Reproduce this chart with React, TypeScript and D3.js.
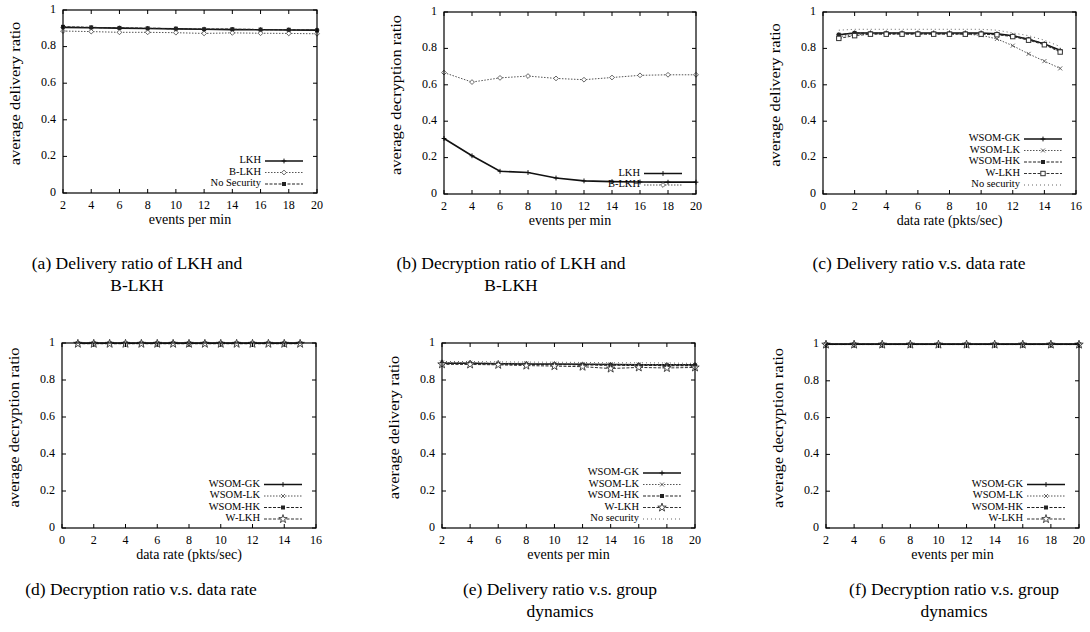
import React from 'react';
import * as d3 from 'd3';

// ---------- data ----------
const eventsX = [2, 4, 6, 8, 10, 12, 14, 16, 18, 20];
const rateX = [1, 2, 3, 4, 5, 6, 7, 8, 9, 10, 11, 12, 13, 14, 15];
const eventsTicks = [2, 4, 6, 8, 10, 12, 14, 16, 18, 20];
const rateTicks = [0, 2, 4, 6, 8, 10, 12, 14, 16];
const yTicks = [0, 0.2, 0.4, 0.6, 0.8, 1];

// (a) delivery ratio of LKH and B-LKH
const aLKH = [0.905, 0.903, 0.901, 0.899, 0.897, 0.895, 0.893, 0.892, 0.891, 0.89];
const aBLKH = [0.885, 0.882, 0.878, 0.878, 0.876, 0.872, 0.875, 0.873, 0.872, 0.87];
const aNoSec = [0.908, 0.905, 0.902, 0.9, 0.898, 0.895, 0.895, 0.893, 0.892, 0.889];

// (b) decryption ratio of LKH and B-LKH
const bLKH = [0.305, 0.21, 0.125, 0.118, 0.088, 0.072, 0.068, 0.066, 0.065, 0.065];
const bBLKH = [0.667, 0.615, 0.638, 0.648, 0.635, 0.628, 0.64, 0.652, 0.655, 0.655];

// (c) delivery ratio vs data rate
const cGK = [0.875, 0.885, 0.885, 0.885, 0.885, 0.885, 0.885, 0.885, 0.885, 0.885, 0.88, 0.87, 0.85, 0.825, 0.79];
const cLK = [0.865, 0.875, 0.88, 0.88, 0.88, 0.88, 0.88, 0.88, 0.878, 0.872, 0.852, 0.815, 0.77, 0.73, 0.69];
const cHK = [0.875, 0.885, 0.883, 0.883, 0.882, 0.882, 0.882, 0.882, 0.882, 0.882, 0.878, 0.868, 0.85, 0.825, 0.785];
const cWLKH = [0.855, 0.87, 0.878, 0.878, 0.878, 0.878, 0.878, 0.878, 0.878, 0.878, 0.875, 0.865, 0.845, 0.82, 0.78];
const cNoSec = [0.9, 0.905, 0.905, 0.905, 0.905, 0.905, 0.905, 0.905, 0.905, 0.905, 0.9, 0.885, 0.87, 0.845, 0.81];

// (d) decryption ratio vs data rate
const dGK = [0.998, 0.998, 0.998, 0.998, 0.998, 0.998, 0.998, 0.998, 0.998, 0.998, 0.998, 0.998, 0.998, 0.998, 0.998];
const dLK = [0.997, 0.997, 0.997, 0.997, 0.997, 0.997, 0.997, 0.997, 0.997, 0.997, 0.997, 0.997, 0.997, 0.997, 0.997];
const dHK = [0.998, 0.998, 0.998, 0.998, 0.998, 0.998, 0.998, 0.998, 0.998, 0.998, 0.998, 0.998, 0.998, 0.998, 0.998];
const dWLKH = [0.996, 0.996, 0.996, 0.996, 0.996, 0.996, 0.996, 0.996, 0.996, 0.996, 0.996, 0.996, 0.996, 0.996, 0.996];

// (e) delivery ratio vs group dynamics
const eGK = [0.89, 0.89, 0.888, 0.887, 0.886, 0.885, 0.884, 0.883, 0.882, 0.882];
const eLK = [0.895, 0.893, 0.89, 0.89, 0.888, 0.886, 0.885, 0.884, 0.883, 0.882];
const eHK = [0.888, 0.888, 0.886, 0.884, 0.883, 0.882, 0.88, 0.879, 0.878, 0.878];
const eWLKH = [0.885, 0.884, 0.882, 0.878, 0.875, 0.872, 0.862, 0.868, 0.865, 0.868];
const eNoSec = [0.9, 0.9, 0.898, 0.897, 0.896, 0.895, 0.893, 0.893, 0.892, 0.89];

// (f) decryption ratio vs group dynamics
const fGK = [0.998, 0.998, 0.998, 0.998, 0.998, 0.998, 0.998, 0.998, 0.998, 0.998];
const fLK = [0.997, 0.997, 0.997, 0.997, 0.997, 0.997, 0.997, 0.997, 0.997, 0.997];
const fHK = [0.998, 0.998, 0.998, 0.998, 0.998, 0.998, 0.998, 0.998, 0.998, 0.998];
const fWLKH = [0.997, 0.997, 0.997, 0.997, 0.997, 0.997, 0.997, 0.997, 0.997, 0.997];

// ---------- styles ----------
type Marker = 'plus' | 'diamond' | 'fsquare' | 'osquare' | 'star' | 'cross' | 'none';
type Series = { name: string; x: number[]; y: number[]; dash: string; marker: Marker; stroke: string; width: number };

const SOLID = '';
const DOT = '1.5,1.5';
const DASH = '3,1.5';
const SPARSE = '1,3';

const FONT = '"Liberation Serif", "Times New Roman", Times, serif';

type PanelCfg = {
  left: number; right: number; top: number; bottom: number;
  xDomain: [number, number]; xTicks: number[];
  yLabel: string; xLabel: string;
  series: Series[];
  caption: string[]; captionX: number; captionY: number;
};

const mk = (name: string, x: number[], y: number[], dash: string, marker: Marker, stroke = '#1a1a1a', width = 1.2): Series =>
  ({ name, x, y, dash, marker, stroke, width });

const panels: PanelCfg[] = [
  {
    left: 63, right: 317, top: 10, bottom: 193, xDomain: [2, 20], xTicks: eventsTicks,
    yLabel: 'average delivery ratio', xLabel: 'events per min',
    series: [
      mk('LKH', eventsX, aLKH, SOLID, 'plus', '#111', 1.6),
      mk('B-LKH', eventsX, aBLKH, DOT, 'diamond', '#555', 1),
      mk('No Security', eventsX, aNoSec, DASH, 'fsquare', '#222', 1.2),
    ],
    caption: ['(a) Delivery ratio of LKH and', 'B-LKH'], captionX: 137, captionY: 265,
  },
  {
    left: 444, right: 696, top: 12, bottom: 194, xDomain: [2, 20], xTicks: eventsTicks,
    yLabel: 'average decryption ratio', xLabel: 'events per min',
    series: [
      mk('LKH', eventsX, bLKH, SOLID, 'plus', '#111', 1.6),
      mk('B-LKH', eventsX, bBLKH, DOT, 'diamond', '#555', 1),
    ],
    caption: ['(b) Decryption ratio of LKH and', 'B-LKH'], captionX: 511, captionY: 265,
  },
  {
    left: 823, right: 1076, top: 12, bottom: 194, xDomain: [0, 16], xTicks: rateTicks,
    yLabel: 'average delivery ratio', xLabel: 'data rate (pkts/sec)',
    series: [
      mk('WSOM-GK', rateX, cGK, SOLID, 'plus', '#111', 1.5),
      mk('WSOM-LK', rateX, cLK, DOT, 'cross', '#555', 1),
      mk('WSOM-HK', rateX, cHK, DASH, 'fsquare', '#222', 1.2),
      mk('W-LKH', rateX, cWLKH, DASH, 'osquare', '#333', 1),
      mk('No security', rateX, cNoSec, SPARSE, 'none', '#666', 1),
    ],
    caption: ['(c) Delivery ratio v.s. data rate'], captionX: 919, captionY: 265,
  },
  {
    left: 62, right: 316, top: 343, bottom: 528, xDomain: [0, 16], xTicks: rateTicks,
    yLabel: 'average decryption ratio', xLabel: 'data rate (pkts/sec)',
    series: [
      mk('WSOM-GK', rateX, dGK, SOLID, 'plus', '#111', 1.5),
      mk('WSOM-LK', rateX, dLK, DOT, 'cross', '#555', 1),
      mk('WSOM-HK', rateX, dHK, DASH, 'fsquare', '#222', 1.2),
      mk('W-LKH', rateX, dWLKH, DASH, 'star', '#333', 1),
    ],
    caption: ['(d) Decryption ratio v.s. data rate'], captionX: 141, captionY: 591,
  },
  {
    left: 442, right: 695, top: 343, bottom: 528, xDomain: [2, 20], xTicks: eventsTicks,
    yLabel: 'average delivery ratio', xLabel: 'events per min',
    series: [
      mk('WSOM-GK', eventsX, eGK, SOLID, 'plus', '#111', 1.5),
      mk('WSOM-LK', eventsX, eLK, DOT, 'cross', '#555', 1),
      mk('WSOM-HK', eventsX, eHK, DASH, 'fsquare', '#222', 1.2),
      mk('W-LKH', eventsX, eWLKH, DASH, 'star', '#333', 1),
      mk('No security', eventsX, eNoSec, SPARSE, 'none', '#666', 1),
    ],
    caption: ['(e) Delivery ratio v.s. group', 'dynamics'], captionX: 560, captionY: 591,
  },
  {
    left: 826, right: 1079, top: 344, bottom: 528, xDomain: [2, 20], xTicks: eventsTicks,
    yLabel: 'average decryption ratio', xLabel: 'events per min',
    series: [
      mk('WSOM-GK', eventsX, fGK, SOLID, 'plus', '#111', 1.5),
      mk('WSOM-LK', eventsX, fLK, DOT, 'cross', '#555', 1),
      mk('WSOM-HK', eventsX, fHK, DASH, 'fsquare', '#222', 1.2),
      mk('W-LKH', eventsX, fWLKH, DASH, 'star', '#333', 1),
    ],
    caption: ['(f) Decryption ratio v.s. group', 'dynamics'], captionX: 954, captionY: 591,
  },
];

function MarkerGlyph({ type, x, y, color }: { type: Marker; x: number; y: number; color: string }) {
  const s = 2.4;
  switch (type) {
    case 'plus':
      return <path d={`M${x - s},${y}H${x + s}M${x},${y - s}V${y + s}`} stroke={color} strokeWidth={1} fill="none" />;
    case 'cross':
      return <path d={`M${x - 2},${y - 2}L${x + 2},${y + 2}M${x - 2},${y + 2}L${x + 2},${y - 2}`} stroke={color} strokeWidth={0.9} fill="none" />;
    case 'diamond':
      return <path d={`M${x},${y - s}L${x + s},${y}L${x},${y + s}L${x - s},${y}Z`} stroke={color} strokeWidth={0.9} fill="#fff" />;
    case 'fsquare':
      return <rect x={x - 2} y={y - 2} width={4} height={4} fill={color} />;
    case 'osquare':
      return <rect x={x - 2.2} y={y - 2.2} width={4.4} height={4.4} fill="#fff" stroke={color} strokeWidth={1} />;
    case 'star': {
      const sym = d3.symbol().type(d3.symbolStar).size(22)();
      return <path d={sym || ''} transform={`translate(${x},${y})`} fill="#fff" stroke={color} strokeWidth={0.9} />;
    }
    default:
      return null;
  }
}

function Panel({ cfg }: { cfg: PanelCfg }) {
  const x = d3.scaleLinear().domain(cfg.xDomain).range([cfg.left, cfg.right]);
  const y = d3.scaleLinear().domain([0, 1]).range([cfg.bottom, cfg.top]);
  const line = d3.line<[number, number]>().x((d) => x(d[0])).y((d) => y(d[1]));
  const tl = 4;
  const legendRight = cfg.right - 56;
  const sampleL = cfg.right - 52;
  const sampleR = cfg.right - 14;
  const n = cfg.series.length;
  const legendBottom = cfg.bottom - 9;
  const step = 11.5;
  const midY = (cfg.top + cfg.bottom) / 2;
  const ylx = cfg.left - 46;
  return (
    <g>
      {cfg.series.map((s, i) => {
        const pts = s.x.map((xv, j) => [xv, s.y[j]] as [number, number]);
        return (
          <g key={i}>
            <path d={line(pts) || ''} fill="none" stroke={s.stroke} strokeWidth={s.width} strokeDasharray={s.dash || undefined} />
            {pts.map((p, j) => (
              <MarkerGlyph key={j} type={s.marker} x={x(p[0])} y={y(p[1])} color={s.stroke} />
            ))}
          </g>
        );
      })}
      <rect x={cfg.left} y={cfg.top} width={cfg.right - cfg.left} height={cfg.bottom - cfg.top} fill="none" stroke="#000" strokeWidth={1.2} />
      {cfg.xTicks.map((t) => (
        <g key={'x' + t}>
          <line x1={x(t)} x2={x(t)} y1={cfg.bottom} y2={cfg.bottom - tl} stroke="#000" strokeWidth={1} />
          <line x1={x(t)} x2={x(t)} y1={cfg.top} y2={cfg.top + tl} stroke="#000" strokeWidth={1} />
          <text x={x(t)} y={cfg.bottom + 13} fontSize={12} textAnchor="middle" dominantBaseline="middle" fontFamily={FONT}>
            {t}
          </text>
        </g>
      ))}
      {yTicks.map((t) => (
        <g key={'y' + t}>
          <line x1={cfg.left} x2={cfg.left + tl} y1={y(t)} y2={y(t)} stroke="#000" strokeWidth={1} />
          <line x1={cfg.right} x2={cfg.right - tl} y1={y(t)} y2={y(t)} stroke="#000" strokeWidth={1} />
          <text x={cfg.left - 7} y={y(t)} fontSize={12} textAnchor="end" dominantBaseline="middle" fontFamily={FONT}>
            {d3.format('~g')(t)}
          </text>
        </g>
      ))}
      <text x={(cfg.left + cfg.right) / 2} y={cfg.bottom + 28} fontSize={14} textAnchor="middle" dominantBaseline="middle" fontFamily={FONT}>
        {cfg.xLabel}
      </text>
      <text transform={`translate(${ylx},${midY - 8}) scale(0.85,1) rotate(-90)`} fontSize={16.5} textAnchor="middle" dominantBaseline="middle" fontFamily={FONT}>
        {cfg.yLabel}
      </text>
      {cfg.series.map((s, i) => {
        const ly = legendBottom - (n - 1 - i) * step;
        const mx = (sampleL + sampleR) / 2;
        return (
          <g key={'l' + i}>
            <text x={legendRight} y={ly} fontSize={10.5} textAnchor="end" dominantBaseline="middle" fontFamily={FONT}>
              {s.name}
            </text>
            <line x1={sampleL} x2={sampleR} y1={ly} y2={ly} stroke={s.stroke} strokeWidth={s.width} strokeDasharray={s.dash || undefined} />
            <MarkerGlyph type={s.marker} x={mx} y={ly} color={s.stroke} />
          </g>
        );
      })}
      {cfg.caption.map((c, i) => (
        <text key={'c' + i} x={cfg.captionX} y={cfg.captionY + i * 22} fontSize={17.5} textAnchor="middle" dominantBaseline="middle" fontFamily={FONT}>
          {c}
        </text>
      ))}
    </g>
  );
}

export default function App() {
  return (
    <svg width={1090} height={632} style={{ position: 'absolute', left: 0, top: 0, background: '#fff' }}>
      <rect width={1090} height={632} fill="#fff" />
      {panels.map((p, i) => (
        <Panel key={i} cfg={p} />
      ))}
    </svg>
  );
}
